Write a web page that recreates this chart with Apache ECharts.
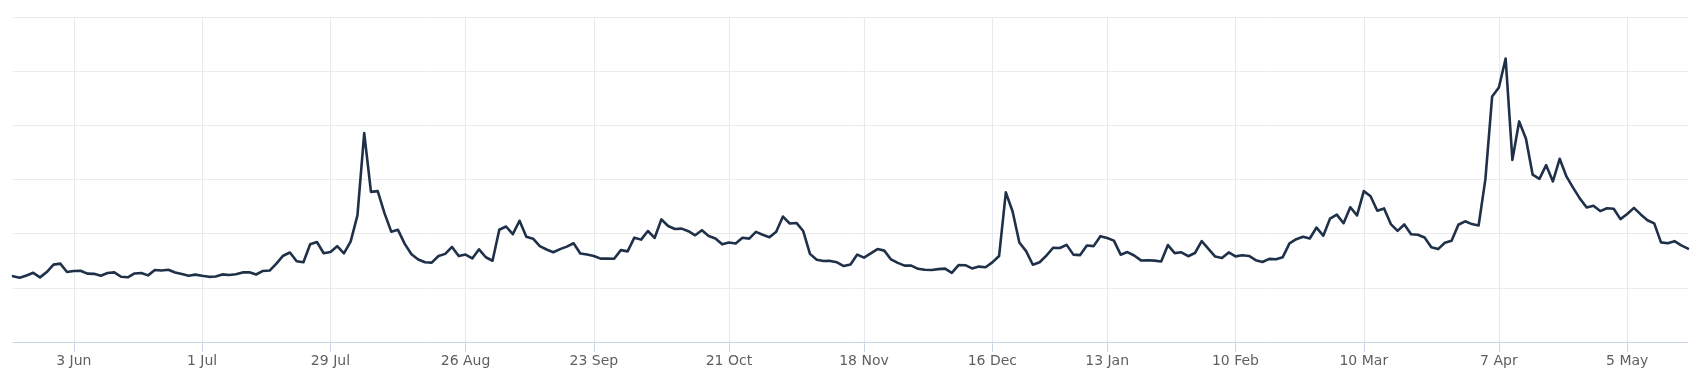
<!DOCTYPE html>
<html>
<head>
<meta charset="utf-8">
<script src="https://cdn.jsdelivr.net/npm/echarts@6/dist/echarts.min.js"></script>
<style>
  html, body { margin: 0; padding: 0; background: #ffffff; }
  #chart { width: 1708px; height: 385px; }
</style>
</head>
<body>
<div id="chart"></div>
<script>
// Trading days (categories)
const dates = [
  '2024-05-20','2024-05-21','2024-05-22','2024-05-23','2024-05-24','2024-05-28','2024-05-29','2024-05-30','2024-05-31',
  '2024-06-03','2024-06-04','2024-06-05','2024-06-06','2024-06-07','2024-06-10','2024-06-11','2024-06-12','2024-06-13','2024-06-14','2024-06-17','2024-06-18','2024-06-20','2024-06-21','2024-06-24','2024-06-25','2024-06-26','2024-06-27','2024-06-28',
  '2024-07-01','2024-07-02','2024-07-03','2024-07-05','2024-07-08','2024-07-09','2024-07-10','2024-07-11','2024-07-12','2024-07-15','2024-07-16','2024-07-17','2024-07-18','2024-07-19','2024-07-22','2024-07-23','2024-07-24','2024-07-25','2024-07-26','2024-07-29','2024-07-30','2024-07-31',
  '2024-08-01','2024-08-02','2024-08-05','2024-08-06','2024-08-07','2024-08-08','2024-08-09','2024-08-12','2024-08-13','2024-08-14','2024-08-15','2024-08-16','2024-08-19','2024-08-20','2024-08-21','2024-08-22','2024-08-23','2024-08-26','2024-08-27','2024-08-28','2024-08-29','2024-08-30',
  '2024-09-03','2024-09-04','2024-09-05','2024-09-06','2024-09-09','2024-09-10','2024-09-11','2024-09-12','2024-09-13','2024-09-16','2024-09-17','2024-09-18','2024-09-19','2024-09-20','2024-09-23','2024-09-24','2024-09-25','2024-09-26','2024-09-27','2024-09-30',
  '2024-10-01','2024-10-02','2024-10-03','2024-10-04','2024-10-07','2024-10-08','2024-10-09','2024-10-10','2024-10-11','2024-10-14','2024-10-15','2024-10-16','2024-10-17','2024-10-18','2024-10-21','2024-10-22','2024-10-23','2024-10-24','2024-10-25','2024-10-28','2024-10-29','2024-10-30','2024-10-31',
  '2024-11-01','2024-11-04','2024-11-05','2024-11-06','2024-11-07','2024-11-08','2024-11-11','2024-11-12','2024-11-13','2024-11-14','2024-11-15','2024-11-18','2024-11-19','2024-11-20','2024-11-21','2024-11-22','2024-11-25','2024-11-26','2024-11-27','2024-11-29',
  '2024-12-02','2024-12-03','2024-12-04','2024-12-05','2024-12-06','2024-12-09','2024-12-10','2024-12-11','2024-12-12','2024-12-13','2024-12-16','2024-12-17','2024-12-18','2024-12-19','2024-12-20','2024-12-23','2024-12-24','2024-12-26','2024-12-27','2024-12-30','2024-12-31',
  '2025-01-02','2025-01-03','2025-01-06','2025-01-07','2025-01-08','2025-01-10','2025-01-13','2025-01-14','2025-01-15','2025-01-16','2025-01-17','2025-01-21','2025-01-22','2025-01-23','2025-01-24','2025-01-27','2025-01-28','2025-01-29','2025-01-30','2025-01-31',
  '2025-02-03','2025-02-04','2025-02-05','2025-02-06','2025-02-07','2025-02-10','2025-02-11','2025-02-12','2025-02-13','2025-02-14','2025-02-18','2025-02-19','2025-02-20','2025-02-21','2025-02-24','2025-02-25','2025-02-26','2025-02-27','2025-02-28',
  '2025-03-03','2025-03-04','2025-03-05','2025-03-06','2025-03-07','2025-03-10','2025-03-11','2025-03-12','2025-03-13','2025-03-14','2025-03-17','2025-03-18','2025-03-19','2025-03-20','2025-03-21','2025-03-24','2025-03-25','2025-03-26','2025-03-27','2025-03-28','2025-03-31',
  '2025-04-01','2025-04-02','2025-04-03','2025-04-04','2025-04-07','2025-04-08','2025-04-09','2025-04-10','2025-04-11','2025-04-14','2025-04-15','2025-04-16','2025-04-17','2025-04-21','2025-04-22','2025-04-23','2025-04-24','2025-04-25','2025-04-28','2025-04-29','2025-04-30',
  '2025-05-01','2025-05-02','2025-05-05','2025-05-06','2025-05-07','2025-05-08','2025-05-09','2025-05-12','2025-05-13','2025-05-14','2025-05-15','2025-05-16'
];

// Series values (one per trading day)
const values = [
  12.15, 11.86, 12.29, 12.77, 11.93, 12.92, 14.28, 14.47, 12.92,
  13.11, 13.16, 12.63, 12.58, 12.22, 12.74, 12.85, 12.04, 11.94, 12.66, 12.75, 12.30, 13.28, 13.20, 13.33, 12.84, 12.55, 12.24, 12.44,
  12.22, 12.03, 12.09, 12.48, 12.37, 12.51, 12.85, 12.89, 12.46, 13.12, 13.19, 14.48, 15.93, 16.52, 14.91, 14.72, 18.04, 18.46, 16.39, 16.60, 17.69, 16.36,
  18.59, 23.39, 38.57, 27.71, 27.85, 23.79, 20.37, 20.71, 18.12, 16.19, 15.23, 14.71, 14.65, 15.88, 16.27, 17.55, 15.86, 16.15, 15.43, 17.11, 15.65, 15.00,
  20.72, 21.32, 19.90, 22.38, 19.45, 19.08, 17.69, 17.07, 16.56, 17.14, 17.61, 18.23, 16.33, 16.15, 15.89, 15.39, 15.41, 15.37, 16.96, 16.73,
  19.26, 18.90, 20.49, 19.21, 22.64, 21.42, 20.86, 20.93, 20.46, 19.70, 20.64, 19.58, 19.11, 18.03, 18.37, 18.20, 19.24, 19.08, 20.33, 19.80, 19.34, 20.35, 23.16,
  21.88, 21.98, 20.49, 16.27, 15.20, 14.94, 14.97, 14.71, 14.02, 14.31, 16.14, 15.58, 16.35, 17.16, 16.87, 15.24, 14.60, 14.10, 14.10, 13.51,
  13.34, 13.30, 13.45, 13.54, 12.77, 14.19, 14.18, 13.58, 13.92, 13.81, 14.69, 15.87, 27.62, 24.09, 18.36, 16.78, 14.27, 14.73, 15.95, 17.40, 17.35,
  17.93, 16.13, 16.04, 17.82, 17.70, 19.54, 19.19, 18.71, 16.12, 16.60, 15.97, 15.06, 15.10, 15.02, 14.85, 17.90, 16.41, 16.56, 15.84, 16.43,
  18.62, 17.21, 15.77, 15.50, 16.54, 15.81, 16.02, 15.89, 15.10, 14.77, 15.35, 15.27, 15.66, 18.21, 18.98, 19.43, 19.10, 21.13, 19.63,
  22.78, 23.51, 21.93, 24.87, 23.37, 27.86, 26.92, 24.23, 24.66, 21.77, 20.51, 21.70, 19.90, 19.80, 19.28, 17.48, 17.15, 18.33, 18.69, 21.65, 22.28,
  21.77, 21.51, 30.02, 45.31, 46.98, 52.33, 33.62, 40.72, 37.56, 30.89, 30.12, 32.64, 29.65, 33.82, 30.57, 28.45, 26.47, 24.84, 25.15, 24.17, 24.70,
  24.60, 22.68, 23.64, 24.76, 23.55, 22.48, 21.90, 18.39, 18.22, 18.62, 17.83, 17.24
];

// X-axis tick labels
const tickDates = ['2024-06-03','2024-07-01','2024-07-29','2024-08-26','2024-09-23','2024-10-21','2024-11-18','2024-12-16','2025-01-13','2025-02-10','2025-03-10','2025-04-07','2025-05-05'];
const tickLabels = ['3 Jun','1 Jul','29 Jul','26 Aug','23 Sep','21 Oct','18 Nov','16 Dec','13 Jan','10 Feb','10 Mar','7 Apr','5 May'];

// Y-axis scale
const yMin = 0, yMax = 60, yStep = 10;

const labelOf = {};
tickDates.forEach((d, i) => { labelOf[d] = tickLabels[i]; });
const isTick = (idx, val) => Object.prototype.hasOwnProperty.call(labelOf, val);

const chart = echarts.init(document.getElementById('chart'), null, { renderer: 'canvas' });
chart.setOption({
  animation: false,
  backgroundColor: '#ffffff',
  grid: { left: 13, right: 20, top: 17, bottom: 43, containLabel: false },
  xAxis: {
    type: 'category',
    data: dates,
    boundaryGap: false,
    axisLine: { show: true, lineStyle: { color: '#ccd6eb', width: 1 } },
    axisTick: { show: true, interval: isTick, length: 10, lineStyle: { color: '#ccd6eb', width: 1 } },
    axisLabel: {
      show: true,
      interval: isTick,
      formatter: (v) => labelOf[v] || '',
      color: '#5f5f5f',
      fontSize: 14,
      fontFamily: 'DejaVu Sans, sans-serif',
      margin: 12
    },
    splitLine: { show: true, interval: isTick, lineStyle: { color: '#e6e9f0', width: 1 } }
  },
  yAxis: {
    type: 'value',
    min: yMin,
    max: yMax,
    interval: yStep,
    axisLine: { show: false },
    axisTick: { show: false },
    axisLabel: { show: false },
    splitLine: { show: true, lineStyle: { color: '#ebebeb', width: 1 } }
  },
  series: [{
    type: 'line',
    data: values,
    symbol: 'none',
    smooth: false,
    lineStyle: { color: '#1f3049', width: 2.6, join: 'round', cap: 'round' },
    z: 5
  }]
});
</script>
</body>
</html>
